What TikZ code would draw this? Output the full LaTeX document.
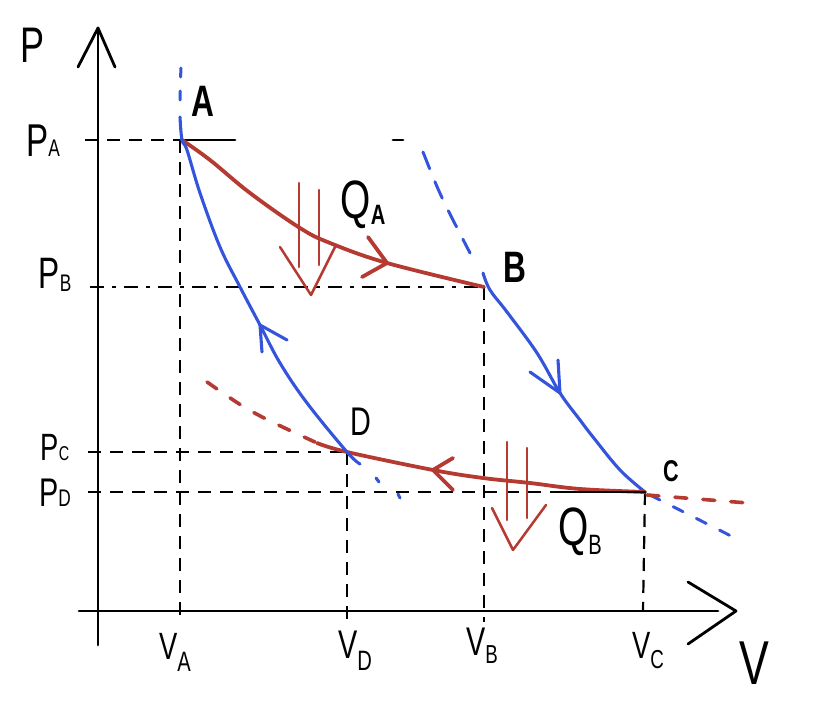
\documentclass[tikz,border=0pt]{standalone}
\usepackage{fontspec}
\newfontfamily\hand[FakeStretch=0.72]{Liberation Sans}
\newcommand{\fs}[1]{\fontsize{#1}{#1}\selectfont}
\definecolor{rc}{RGB}{180,58,50}
\definecolor{bc}{RGB}{52,84,220}
\begin{document}
\begin{tikzpicture}[x=1pt,y=-1pt,line cap=round,line join=round,
  axis/.style={line width=2.8pt,draw=black},
  guide/.style={line width=2.6pt,draw=black,line cap=butt,dash pattern=on 13pt off 9pt},
  guidedd/.style={line width=2.6pt,draw=black,line cap=butt,dash pattern=on 14pt off 8pt on 4pt off 8pt},
  redc/.style={draw=rc,line width=3.8pt},
  bluec/.style={draw=bc,line width=3.1pt},
  qarr/.style={draw=rc,line width=2.5pt},
  reddash/.style={draw=rc,line width=3.6pt,dash pattern=on 12pt off 16pt},
  bluedash/.style={draw=bc,line width=3pt,dash pattern=on 11pt off 15pt},
  lbl/.style={inner sep=0pt,outer sep=0pt,font=\hand}]
\useasboundingbox (0,0) rectangle (814,722);
% key points
\coordinate (O) at (98,611);
\coordinate (A) at (182,140);
\coordinate (B) at (484,287);
\coordinate (C) at (645,492);
\coordinate (D) at (347,452);
\coordinate (ytop) at (98,28);
\coordinate (ybot) at (98,645);
\coordinate (xl) at (79,611);
\coordinate (xe) at (718,611);
\coordinate (xtip) at (736,611);
% guides
\coordinate (pa0) at (85,140);
\coordinate (pa1) at (235,140);
\coordinate (pb0) at (90,287);
\coordinate (pc0) at (88,452);
\coordinate (pd0) at (88,492);
\coordinate (pd1) at (558,492);
\coordinate (va1) at (180,622);
\coordinate (vd1) at (347,622);
\coordinate (vb1) at (484,622);
\coordinate (vc1) at (643,611);
\draw[guide] (pa0) -- (A);
\draw[axis] (A) -- (pa1);
\draw[axis] (393,140) -- (403,140);
\draw[guidedd] (pb0) -- (B);
\draw[guide] (pc0) -- (D);
\draw[guide] (pd0) -- (pd1);
\draw[guide,line width=2.2pt] (180,140) -- (va1);
\draw[guide,line width=2.2pt] (D) -- (vd1);
\draw[guide,line width=2.2pt] (B) -- (vb1);
\draw[guide,line width=2.2pt] (C) -- (vc1);
% axes
\draw[axis] (ybot) -- (ytop);
\draw[axis] (78,67) -- (ytop) -- (115,67);
\draw[axis] (xl) -- (xe);
\draw[axis] (688,582) -- (xtip) -- (688,644);
% dashed extensions
\draw[bluedash,dash pattern=on 9pt off 14pt] (180,100) -- (181,64);
\draw[bluedash,dash pattern=on 18pt off 14pt] (423,152) .. controls (440,195) .. (470,253);
\draw[bluec] (376,478) -- (379,482);
\draw[bluec] (398,494) -- (400,498);
\draw[bluedash] (650,495) -- (735,538);
\draw[reddash] (207,382) .. controls (250,412) .. (317,443);
\draw[reddash] (647,495) -- (748,503);
% isotherm A -> B
\draw[redc] plot[smooth,tension=0.6] coordinates {(A) (210,160) (250,193) (300,228) (330,243) (387,263) (B)};
\draw[redc] (368,237) -- (387,263) -- (362,277);
% adiabat B -> C
\coordinate (Bt) at (483,273);
\draw[bluec] plot[smooth,tension=0.6] coordinates {(Bt) (490,290) (507,312) (537,353) (560,393) (580,420) (593,437) (620,470) (C)};
\draw[bluec] (530,372) -- (560,393) -- (558,360);
% isotherm C -> D
\coordinate (Dt) at (317,443);
\draw[redc] plot[smooth,tension=0.6] coordinates {(C) (580,489) (530,483) (483,478) (433,470) (D) (Dt)};
\draw[redc] (453,458) -- (433,470) -- (453,490);
\draw[axis] (pd1) -- (C);
% adiabat D -> A
\coordinate (Db) at (360,464);
\coordinate (At) at (180,117);
\draw[bluec] plot[smooth,tension=0.6] coordinates {(Db) (D) (307,403) (280,363) (260,325) (240,287) (220,247) (200,193) (187,150) (A) (At)};
\draw[bluec] (262,352) -- (260,325) -- (287,340);
% heat arrows
\draw[qarr] (299,183) -- (299,267);
\draw[qarr] (319,190) -- (319,265);
\draw[qarr] (280,247) -- (311,295) -- (335,247);
\draw[qarr] (507,442) -- (507,520);
\draw[qarr] (527,448) -- (527,518);
\draw[qarr] (492,508) -- (513,550) -- (546,505);
% labels
\node[lbl] (lP) at (33,45) {\fs{50}P};
\node[lbl] (lPA) at (43,141) {\fs{46}P\fs{24}A};
\node[lbl] (lPB) at (55,275) {\fs{44}P\raisebox{-3pt}{\fs{24}B}};
\node[lbl] (lPC) at (55,448) {\fs{38}P\fs{20}C};
\node[lbl] (lPD) at (55,493) {\fs{40}P\fs{24}D};
\node[lbl] (lVA) at (175,652) {\fs{38}V\raisebox{-12pt}{\fs{28}A}};
\node[lbl] (lVD) at (355,651) {\fs{40}V\raisebox{-12pt}{\fs{28}D}};
\node[lbl] (lVB) at (482,646) {\fs{40}V\raisebox{-8pt}{\fs{26}B}};
\node[lbl] (lVC) at (648,651) {\fs{38}V\raisebox{-10pt}{\fs{26}C}};
\node[lbl] (lV) at (754,663) {\fs{62}V};
\node[lbl] (lA) at (203,101) {\fs{44}\bfseries A};
\node[lbl] (lB) at (515,267) {\fs{44}\bfseries B};
\node[lbl] (lC) at (671,471) {\fs{30}\bfseries C};
\node[lbl] (lD) at (361,422) {\fs{40}D};
\node[lbl] (lQA) at (363,205) {\fs{54}Q\raisebox{-6pt}{\fs{28}\bfseries A}};
\node[lbl] (lQB) at (580,532) {\fs{54}Q\raisebox{-9pt}{\fs{28}B}};
\end{tikzpicture}
\end{document}
